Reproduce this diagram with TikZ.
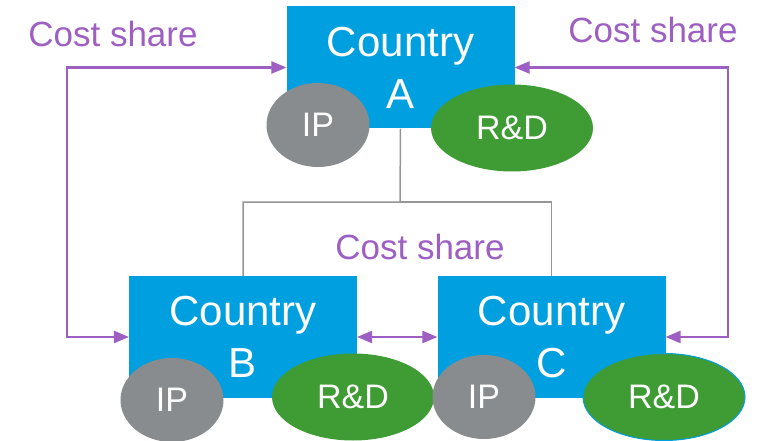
\documentclass[tikz,border=0pt]{standalone}
\usepackage{fontspec}
\setmainfont{Liberation Sans}
\usetikzlibrary{shapes,shapes.geometric,arrows,positioning}
\definecolor{boxblue}{RGB}{0,159,223}
\definecolor{ipgray}{RGB}{137,140,142}
\definecolor{rdgreen}{RGB}{63,156,53}
\definecolor{costpurple}{RGB}{158,95,194}
\definecolor{linegray}{RGB}{150,150,150}

\begin{document}
\begin{tikzpicture}[x=1pt,y=-1pt]
            \tikzstyle{country} = [fill=boxblue, text=white, align=center, minimum width=228pt, minimum height=122pt, inner sep=0pt, font=\fontsize{42}{52}\selectfont]
            \tikzstyle{ip} = [ellipse, fill=ipgray, text=white, minimum width=103pt, minimum height=84pt, inner sep=0pt, font=\fontsize{34}{40}\selectfont]
            \tikzstyle{rd} = [ellipse, fill=rdgreen, text=white, minimum width=162pt, minimum height=87pt, inner sep=0pt, font=\fontsize{34}{40}\selectfont]
            \tikzstyle{cost} = [costpurple, line width=2.5pt]
            \tikzstyle{label} = [text=costpurple, anchor=base, inner sep=0pt, font=\fontsize{35}{42}\selectfont]
            \useasboundingbox (0,0) rectangle (766,441);

            % gray tree behind the boxes
            \coordinate (split) at (400,202);
            \node[country](A) at (400.5,67.5){Country\\A};
            \node[country](B) at (243,337){Country\\B};
            \node[country](C) at (551.5,337){Country\\C};
            \draw[linegray, line width=1.5pt] (A.south) -- (split) -| (B.north);
            \draw[linegray, line width=1.5pt] (split) -| (C.north);

            \node[ip](ipA) at (318,125){IP};
            \node[rd](rdA) at (512,128){R\&D};
            \node[ip](ipB) at (172,400){IP};
            \node[rd](rdB) at (353,397){R\&D};
            \node[ip](ipC) at (484,397){IP};
            \node[rd, draw=boxblue, line width=1pt](rdC) at (664,397){R\&D};

            % cost share arrows
            \coordinate (lline) at (67,200);
            \coordinate (rline) at (728,200);
            \draw[cost, triangle 45-triangle 45] (A.west) -| (lline) |- (B.west);
            \draw[cost, triangle 45-triangle 45] (A.east) -| (rline) |- (C.east);
            \draw[cost, triangle 45-triangle 45] (B.east) -- (C.west);

            \node[label](costL) at (113,47){Cost share};
            \node[label](costR) at (653,43){Cost share};
            \node[label](costM) at (420,259){Cost share};
\end{tikzpicture}
\end{document}
